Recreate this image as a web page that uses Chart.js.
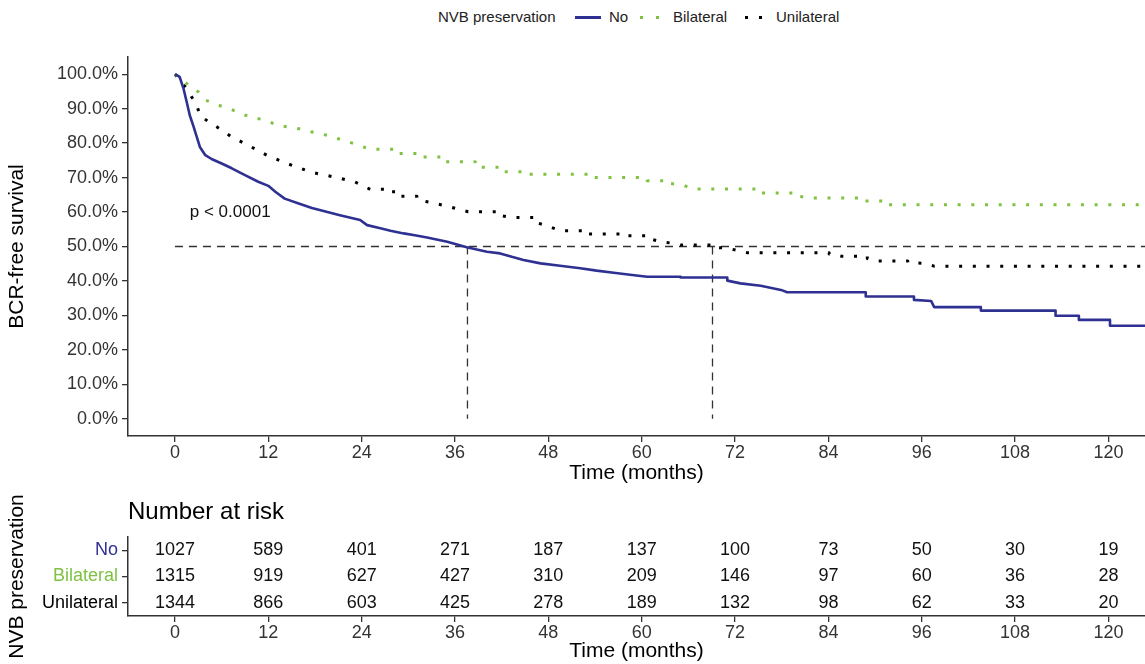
<!DOCTYPE html>
<html lang="en">
<head>
<meta charset="UTF-8">
<title>BCR-free survival by NVB preservation</title>
<script src="https://cdn.jsdelivr.net/npm/chart.js"></script>
<style>
  body { margin: 0; background: #fff; font-family: 'Liberation Sans', Arial, sans-serif; }
  #wrap { position: relative; width: 1145px; height: 664px; overflow: hidden; }
  #main { position: absolute; left: 0; top: 0; }
  #risk { position: absolute; left: 0; top: 490px; }
  .lg { position: absolute; top: 8px; font-size: 15px; line-height: 18px; color: #222; white-space: nowrap; }
  .key { position: absolute; top: 16px; height: 3px; }
</style>
</head>
<body>
<div id="wrap">
  <!-- legend -->
  <span class="lg" style="left:438px">NVB preservation</span>
  <span class="key" style="left:575px;width:26px;background:#2E3192"></span>
  <span class="lg" style="left:609px">No</span>
  <span class="key" style="left:640px;width:19px;background:repeating-linear-gradient(to right,#7FC241 0 3px,transparent 3px 16px)"></span>
  <span class="lg" style="left:673px">Bilateral</span>
  <span class="key" style="left:745px;width:19px;background:repeating-linear-gradient(to right,#000 0 3px,transparent 3px 14px)"></span>
  <span class="lg" style="left:776px">Unilateral</span>

  <canvas id="main" width="1145" height="490"></canvas>
  <canvas id="risk" width="1145" height="174"></canvas>
</div>

<script>
// groups
const groups = ['No', 'Bilateral', 'Unilateral'];
const colors = ['#2E3192', '#7FC241', '#000000'];

// KM curves (months, survival)
const noTime = [0, 0.6, 1.1, 1.5, 1.9, 2.4, 2.8, 3.2, 3.9, 4.7, 6.0, 7.3, 9.0, 10.7, 12.0, 12.9, 14.1, 15.9, 17.6, 18.6,
  21.2, 23.8, 24.7, 26.4, 27.7, 29.4, 31.0, 32.4, 35.0, 37.5, 40.1, 41.8, 43.3, 44.8, 47.0, 49.5, 52.1, 54.2, 56.4, 58.5, 60.7, 65.0, 71.0, 72.7,
  75.3, 77.9, 78.7, 88.8, 95.0, 97.2, 97.6, 103.6, 113.2, 116.2, 120.2, 124.7];
const noSurv = [1.000, 0.992, 0.958, 0.920, 0.881, 0.847, 0.818, 0.789, 0.765, 0.754, 0.741, 0.727, 0.707, 0.688, 0.676, 0.659, 0.639, 0.625, 0.612, 0.606,
  0.591, 0.577, 0.562, 0.553, 0.546, 0.538, 0.532, 0.526, 0.514, 0.498, 0.485, 0.480, 0.470, 0.461, 0.451, 0.444, 0.437, 0.430, 0.424, 0.418, 0.412, 0.410, 0.401, 0.393,
  0.386, 0.374, 0.367, 0.355, 0.345, 0.342, 0.324, 0.314, 0.299, 0.287, 0.270, 0.270];

const bilTime = [0, 1.1, 1.9, 3.0, 3.9, 5.6, 7.1, 9.6, 11.6, 13.1, 15.9, 17.5, 19.5, 22.3, 25.1, 28.5, 31.5, 34.5, 38.6, 41.6,
  45.3, 53.8, 60.7, 63.7, 65.4, 66.5, 75.1, 80.0, 81.5, 88.1, 91.2, 124.7];
const bilSurv = [1.000, 0.983, 0.963, 0.949, 0.925, 0.910, 0.899, 0.876, 0.867, 0.852, 0.842, 0.833, 0.823, 0.804, 0.782, 0.770, 0.760, 0.746, 0.730, 0.717,
  0.710, 0.700, 0.691, 0.683, 0.678, 0.667, 0.655, 0.647, 0.641, 0.632, 0.621, 0.621];

const uniTime = [0, 1.5, 2.8, 3.2, 4.3, 5.4, 7.3, 9.4, 11.8, 14.4, 16.1, 17.6, 20.4, 23.1, 25.1, 28.1, 31.1, 32.4, 35.0, 37.7,
  41.4, 43.3, 46.3, 47.6, 49.5, 52.5, 57.7, 60.7, 62.4, 64.1, 65.0, 69.1, 71.0, 73.6, 84.1, 85.6, 89.0, 90.3, 94.2, 96.3, 97.6, 124.7];
const uniSurv = [1.000, 0.958, 0.910, 0.881, 0.862, 0.847, 0.818, 0.794, 0.765, 0.741, 0.727, 0.715, 0.702, 0.688, 0.666, 0.646, 0.637, 0.630, 0.617, 0.601,
  0.591, 0.584, 0.570, 0.562, 0.546, 0.536, 0.531, 0.524, 0.514, 0.509, 0.504, 0.498, 0.495, 0.482, 0.478, 0.472, 0.465, 0.458, 0.454, 0.451, 0.443, 0.443];

// median survival times (dashed guides)
const medianTimes = [37.6, 69.1];

// axes
const timeTicks = [0, 12, 24, 36, 48, 60, 72, 84, 96, 108, 120];
const survTicks = [0, 0.1, 0.2, 0.3, 0.4, 0.5, 0.6, 0.7, 0.8, 0.9, 1.0];
const xMin = -6.04, xMax = 124.7;

// number at risk
const riskTimes = [0, 12, 24, 36, 48, 60, 72, 84, 96, 108, 120];
const riskNo = [1027, 589, 401, 271, 187, 137, 100, 73, 50, 30, 19];
const riskBilateral = [1315, 919, 627, 427, 310, 209, 146, 97, 60, 36, 28];
const riskUnilateral = [1344, 866, 603, 425, 278, 189, 132, 98, 62, 33, 20];
const riskCounts = [riskNo, riskBilateral, riskUnilateral];

const pText = 'p < 0.0001';
const pAt = { x: 1.9, y: 0.6 };

Chart.defaults.font.family = "'Liberation Sans', Arial, sans-serif";
Chart.defaults.color = '#333';

const axisLine = { display: true, color: '#333', width: 1.5 };
const tickMarks = { display: true, drawOnChartArea: false, drawTicks: true, tickLength: 6, color: '#333', lineWidth: 1.3, offset: false };

// where the readings are far apart the curve is flat, so hold the value
// until the next time (KM step); close readings are joined directly
function kmPoints(t, s) {
  const pts = [];
  t.forEach((x, i) => {
    if (i > 0 && x - t[i - 1] > 2.9) pts.push({ x: x, y: s[i - 1] });
    pts.push({ x: x, y: s[i] });
  });
  return pts;
}

function curve(label, t, s, color, dash) {
  return {
    label: label,
    data: kmPoints(t, s),
    borderColor: color,
    borderWidth: dash.length ? 3 : 2.6,
    borderDash: dash,
    borderJoinStyle: 'round',
    pointRadius: 0,
    fill: false
  };
}

function guide(points) {
  return {
    label: 'guide',
    data: points,
    borderColor: '#333',
    borderWidth: 1.3,
    borderDash: [8, 6],
    pointRadius: 0,
    fill: false
  };
}

const guides = [guide([{ x: 0, y: 0.5 }, { x: xMax, y: 0.5 }])]
  .concat(medianTimes.map(t => guide([{ x: t, y: 0.5 }, { x: t, y: 0 }])));

const pLabel = {
  id: 'pLabel',
  afterDatasetsDraw(chart) {
    const { ctx, scales } = chart;
    ctx.save();
    ctx.font = "17px 'Liberation Sans', Arial, sans-serif";
    ctx.fillStyle = '#111';
    ctx.textAlign = 'left';
    ctx.textBaseline = 'middle';
    ctx.fillText(pText, scales.x.getPixelForValue(pAt.x), scales.y.getPixelForValue(pAt.y));
    ctx.restore();
  }
};

new Chart(document.getElementById('main'), {
  type: 'line',
  data: {
    datasets: [
      curve('No', noTime, noSurv, colors[0], []),
      curve('Bilateral', bilTime, bilSurv, colors[1], [3, 10.7]),
      curve('Unilateral', uniTime, uniSurv, colors[2], [3, 10.7])
    ].concat(guides)
  },
  options: {
    responsive: false,
    animation: false,
    layout: { padding: { top: 57, left: 0, right: 0, bottom: 0 } },
    plugins: { legend: { display: false }, tooltip: { enabled: false } },
    scales: {
      x: {
        type: 'linear', min: xMin, max: xMax,
        afterBuildTicks: s => { s.ticks = timeTicks.map(v => ({ value: v })); },
        afterFit: s => { s.height = 54; },
        grid: tickMarks, border: axisLine,
        ticks: { font: { size: 18 }, color: '#333', padding: 0, maxRotation: 0 },
        title: { display: true, text: 'Time (months)', font: { size: 21 }, color: '#000', padding: { top: 0, bottom: 4 } }
      },
      y: {
        type: 'linear', min: -0.05, max: 1.05,
        afterBuildTicks: s => { s.ticks = survTicks.map(v => ({ value: v })); },
        afterFit: s => { s.width = 128; },
        grid: tickMarks, border: axisLine,
        ticks: { font: { size: 18 }, color: '#333', padding: 4, callback: v => (v * 100).toFixed(1) + '%' },
        title: { display: true, text: 'BCR-free survival', font: { size: 21 }, color: '#000', padding: { top: 5, bottom: 0 } }
      }
    }
  },
  plugins: [pLabel]
});

const riskText = {
  id: 'riskText',
  afterDatasetsDraw(chart) {
    const { ctx } = chart;
    ctx.save();
    ctx.font = "18px 'Liberation Sans', Arial, sans-serif";
    ctx.fillStyle = '#111';
    ctx.textAlign = 'center';
    ctx.textBaseline = 'middle';
    chart.data.datasets.forEach((ds, di) => {
      const meta = chart.getDatasetMeta(di);
      meta.data.forEach((pt, i) => ctx.fillText(String(riskCounts[di][i]), pt.x, pt.y));
    });
    ctx.font = "24px 'Liberation Sans', Arial, sans-serif";
    ctx.textAlign = 'left';
    ctx.fillStyle = '#000';
    ctx.fillText('Number at risk', chart.chartArea.left, 22);
    ctx.restore();
  }
};

new Chart(document.getElementById('risk'), {
  type: 'scatter',
  data: {
    datasets: groups.map((g, gi) => ({
      label: g,
      data: riskTimes.map(t => ({ x: t, y: g })),
      pointRadius: 0
    }))
  },
  options: {
    responsive: false,
    animation: false,
    layout: { padding: { top: 47, left: 0, right: 0, bottom: 0 } },
    plugins: { legend: { display: false }, tooltip: { enabled: false } },
    scales: {
      x: {
        type: 'linear', min: xMin, max: xMax,
        afterBuildTicks: s => { s.ticks = timeTicks.map(v => ({ value: v })); },
        afterFit: s => { s.height = 48; },
        grid: tickMarks, border: axisLine,
        ticks: { font: { size: 18 }, color: '#333', padding: 0, maxRotation: 0 },
        title: { display: true, text: 'Time (months)', font: { size: 21 }, color: '#000', padding: { top: 0, bottom: 0 } }
      },
      y: {
        type: 'category', labels: groups, offset: true,
        afterFit: s => { s.width = 128; },
        grid: tickMarks, border: axisLine,
        ticks: { font: { size: 18 }, padding: 4, color: c => colors[c.index] },
        title: { display: true, text: 'NVB preservation', font: { size: 21 }, color: '#000', padding: { top: 5, bottom: 0 } }
      }
    }
  },
  plugins: [riskText]
});
</script>
</body>
</html>
